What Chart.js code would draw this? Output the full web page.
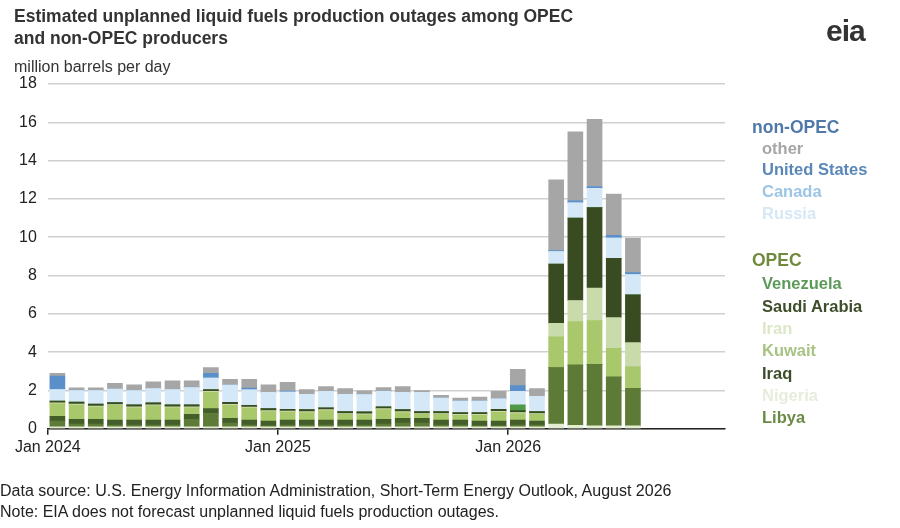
<!DOCTYPE html>
<html><head><meta charset="utf-8">
<script src="https://cdn.jsdelivr.net/npm/chart.js@4"></script>
<style>
body{margin:0;width:900px;height:528px;background:#fff;font-family:Arial,"Liberation Sans",sans-serif;position:relative;overflow:hidden}
#wrap{position:absolute;left:0;top:0;width:900px;height:528px}
.t{position:absolute;white-space:nowrap}
#title{left:14px;top:5px;font-weight:bold;font-size:17.5px;line-height:22px;color:#333}
#unit{left:14px;top:58px;font-size:16px;color:#333}
#foot{left:0;top:480px;font-size:16px;line-height:21px;color:#222}
.lg{position:absolute;left:752px;font-size:16.5px;font-weight:bold;white-space:nowrap}
#logo{left:826px;top:14px;font-size:30px;font-weight:bold;color:#333;letter-spacing:-1px}
</style></head><body>
<div id="wrap"><canvas id="c" width="900" height="528"></canvas></div>
<div class="t" id="title">Estimated unplanned liquid fuels production outages among OPEC<br>and non-OPEC producers</div>
<div class="t" id="unit">million barrels per day</div>
<div class="t" id="logo">eia</div>
<div class="t" id="foot">Data source: U.S. Energy Information Administration, Short-Term Energy Outlook, August 2026<br>Note: EIA does not forecast unplanned liquid fuels production outages.</div>
<div id="legend"></div>
<script>
const months = ["Jan 2024","Feb 2024","Mar 2024","Apr 2024","May 2024","Jun 2024","Jul 2024","Aug 2024","Sep 2024","Oct 2024","Nov 2024","Dec 2024",
"Jan 2025","Feb 2025","Mar 2025","Apr 2025","May 2025","Jun 2025","Jul 2025","Aug 2025","Sep 2025","Oct 2025","Nov 2025","Dec 2025",
"Jan 2026","Feb 2026","Mar 2026","Apr 2026","May 2026","Jun 2026","Jul 2026"];
const tickLabels = {0:"Jan 2024",12:"Jan 2025",24:"Jan 2026"};
const nigeria = [0.1,0.1,0.1,0.1,0.1,0.1,0.1,0.1,0.1,0.1,0.1,0.1, 0.1,0.1,0.1,0.1,0.1,0.1,0.1,0.1,0.1,0.1,0.1,0.1, 0.1,0.1,0.25,0.18,0.15,0.15,0.15];
const iraq = [0.3,0.15,0.15,0.1,0.1,0.1,0.1,0.4,0.7,0.2,0.1,0.05, 0.1,0.1,0.1,0.1,0.1,0.15,0.2,0.2,0.1,0.1,0.05,0.05, 0.1,0.1,2.95,3.15,3.2,2.55,1.95];
const libya = [0.25,0.25,0.25,0.25,0.25,0.25,0.25,0.25,0.25,0.25,0.25,0.25, 0.25,0.25,0.25,0.25,0.25,0.25,0.25,0.25,0.25,0.25,0.25,0.25, 0.25,0.2,0,0,0,0,0];
const kuwait = [0.65,0.74,0.64,0.77,0.65,0.75,0.65,0.35,0.85,0.68,0.63,0.5, 0.42,0.4,0.5,0.3,0.28,0.5,0.3,0.2,0.3,0.25,0.3,0.46, 0.35,0.35,1.6,2.27,2.3,1.5,1.15];
const iran = [0.05,0.05,0.05,0.05,0.05,0.05,0.05,0.05,0.05,0.05,0.05,0.05, 0.05,0.05,0.05,0.05,0.05,0.05,0.05,0.05,0.05,0.05,0.05,0.05, 0.05,0.05,0.7,1.1,1.7,1.6,1.25];
const saudi = [0.1,0.1,0.1,0.1,0.1,0.1,0.1,0.1,0.1,0.1,0.1,0.1, 0.1,0.1,0.1,0.1,0.1,0.1,0.1,0.1,0.1,0.1,0.1,0.1, 0.1,0.1,3.1,4.3,4.2,3.1,2.5];
const venezuela = [0,0,0,0,0,0,0,0,0,0,0,0, 0,0,0,0,0,0,0,0,0,0,0,0, 0.3,0,0,0,0,0,0];
const russia = [0.6,0.6,0.7,0.7,0.75,0.75,0.8,0.9,0.6,0.9,0.8,0.85, 0.9,0.8,0.85,0.9,0.9,0.8,0.9,1.0,0.7,0.6,0.6,0.55, 0.7,0.8,0.65,0.8,1.0,1.05,1.05];
const canada = [0,0,0,0,0,0,0,0,0,0,0,0, 0,0,0,0,0,0,0,0,0,0,0,0, 0,0,0,0,0,0,0];
const unitedStates = [0.7,0,0,0,0,0,0,0,0.25,0,0.1,0, 0.05,0,0,0,0,0,0,0,0,0,0,0, 0.3,0,0.05,0.1,0.1,0.15,0.1];
const other = [0.15,0.15,0.15,0.3,0.3,0.35,0.45,0.35,0.3,0.3,0.45,0.4, 0.45,0.25,0.25,0.3,0.2,0.2,0.3,0.1,0.15,0.15,0.2,0.4, 0.85,0.4,3.7,3.6,3.5,2.15,1.8];

const series = [
 ["Nigeria",nigeria,"#e3edcf"],["Iraq",iraq,"#5d7b36"],["Libya",libya,"#445e2a"],
 ["Kuwait",kuwait,"#a9c86c"],["Iran",iran,"#cadbab"],["Saudi Arabia",saudi,"#394b20"],
 ["Venezuela",venezuela,"#4f9a48"],["Russia",russia,"#d5e8f7"],["Canada",canada,"#a3cbec"],
 ["United States",unitedStates,"#5a8fca"],["other",other,"#a6a6a6"]];

new Chart(document.getElementById('c'),{
 type:'bar',
 data:{datasets:series.map(([n,v,c])=>({label:n,data:v.map((y,i)=>({x:i+0.5,y})),backgroundColor:c,borderWidth:0,barThickness:15}))},
 options:{responsive:false,animation:false,
  layout:{padding:{left:8,right:175,top:84,bottom:68}},
  plugins:{legend:{display:false},tooltip:{enabled:false}},
  scales:{
   x:{type:'linear',stacked:true,min:0,max:35.3,offset:false,
      afterBuildTicks:a=>{a.ticks=[0,12,24].map(v=>({value:v}));},
      ticks:{callback:v=>tickLabels[v]||"",font:{size:16,family:"Arial"},color:"#222",maxRotation:0,autoSkip:false},
      grid:{display:true,drawOnChartArea:false,drawTicks:true,tickLength:6,color:"#222",lineWidth:1.5,offset:false},
      border:{color:"#222",width:1.5}},
   y:{stacked:true,min:0,max:18,ticks:{stepSize:2,padding:11,font:{size:16,family:"Arial"},color:"#222"},
      grid:{color:"#d0d0d0",lineWidth:1.5,drawTicks:false},border:{display:false}}
  }}
});
const lg=[["non-OPEC",117,"#4f79a8",17.5],["other",139,"#a6a6a6"],["United States",160,"#5a87b8"],["Canada",182,"#9cc5e6"],["Russia",204,"#d7e8f5"],
["OPEC",250,"#6f8a3d",17.5],["Venezuela",274,"#5c9a5a"],["Saudi Arabia",297,"#3e4d2a"],["Iran",319,"#dce7c9"],["Kuwait",341,"#a9c384"],["Iraq",364,"#3f4d2b"],["Nigeria",386,"#e6eddc"],["Libya",408,"#6a8a45"]];
document.getElementById('legend').innerHTML=lg.map(([t,y,c,s])=>`<div class="lg" style="top:${y}px;color:${c};${s?'font-size:'+s+'px':'left:762px'}">${t}</div>`).join('');
</script>
</body></html>
